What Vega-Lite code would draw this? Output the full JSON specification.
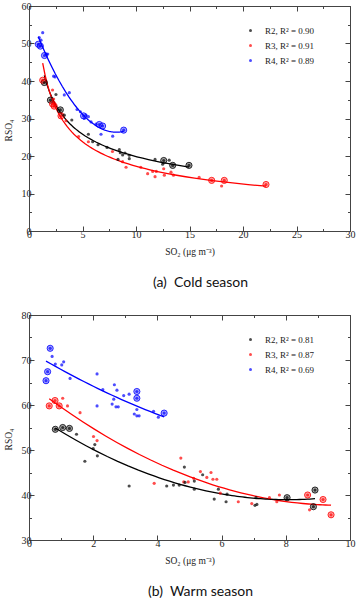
{
  "$schema": "https://vega.github.io/schema/vega-lite/v6.json",
  "padding": {"left": 2, "top": 0, "right": 0, "bottom": 0},
  "background": "white",
  "spacing": 19,
  "config": {
    "view": {"stroke": "#444", "strokeWidth": 1},
    "axis": {
      "grid": false, "labelFont": "Liberation Serif", "titleFont": "Liberation Serif",
      "labelFontSize": 10, "titleFontSize": 9.5, "titleFontWeight": "normal",
      "labelColor": "#222", "titleColor": "#222", "domainColor": "#444", "tickColor": "#444",
      "tickSize": -5, "labelPadding": 3, "titlePadding": 8, "labelFlush": false, "labelOverlap": false
    }
  },
  "resolve": {"scale": {"color": "independent", "fill": "independent", "stroke": "independent"}, "legend": {"color": "independent"}},
  "datasets": {
    "cold": [
      {"site": "R4", "so2": 0.96, "rso4": 51.6},
      {"site": "R4", "so2": 1.28, "rso4": 52.9},
      {"site": "R4", "so2": 1.12, "rso4": 50.9},
      {"site": "R4", "so2": 0.87, "rso4": 49.8, "ring": 1},
      {"site": "R4", "so2": 1.06, "rso4": 49.3, "ring": 1},
      {"site": "R4", "so2": 1.45, "rso4": 46.8, "ring": 1},
      {"site": "R4", "so2": 1.59, "rso4": 47.2},
      {"site": "R4", "so2": 1.75, "rso4": 47.2},
      {"site": "R4", "so2": 2.3, "rso4": 41.3},
      {"site": "R4", "so2": 2.43, "rso4": 41.1},
      {"site": "R4", "so2": 3.3, "rso4": 36.3},
      {"site": "R4", "so2": 3.77, "rso4": 36.9},
      {"site": "R4", "so2": 4.49, "rso4": 32.4},
      {"site": "R4", "so2": 4.8, "rso4": 31.8},
      {"site": "R4", "so2": 5.1, "rso4": 30.7, "ring": 1},
      {"site": "R4", "so2": 5.33, "rso4": 30.9},
      {"site": "R4", "so2": 5.55, "rso4": 30.5},
      {"site": "R4", "so2": 5.17, "rso4": 30.0},
      {"site": "R4", "so2": 5.8, "rso4": 29.1},
      {"site": "R4", "so2": 6.26, "rso4": 28.5},
      {"site": "R4", "so2": 6.57, "rso4": 28.4, "ring": 1},
      {"site": "R4", "so2": 6.88, "rso4": 28.0, "ring": 1},
      {"site": "R4", "so2": 6.73, "rso4": 25.8},
      {"site": "R4", "so2": 7.82, "rso4": 25.3},
      {"site": "R4", "so2": 8.85, "rso4": 26.9, "ring": 1},
      {"site": "R2", "so2": 1.43, "rso4": 39.6, "ring": 1},
      {"site": "R2", "so2": 2.0, "rso4": 34.9, "ring": 1},
      {"site": "R2", "so2": 2.52, "rso4": 36.4},
      {"site": "R2", "so2": 2.93, "rso4": 32.3, "ring": 1},
      {"site": "R2", "so2": 3.3, "rso4": 30.9},
      {"site": "R2", "so2": 4.0, "rso4": 29.6},
      {"site": "R2", "so2": 5.55, "rso4": 25.8},
      {"site": "R2", "so2": 5.95, "rso4": 23.8},
      {"site": "R2", "so2": 6.45, "rso4": 23.0},
      {"site": "R2", "so2": 7.29, "rso4": 22.3},
      {"site": "R2", "so2": 8.44, "rso4": 21.7},
      {"site": "R2", "so2": 8.53, "rso4": 20.9},
      {"site": "R2", "so2": 8.75, "rso4": 20.3},
      {"site": "R2", "so2": 8.97, "rso4": 20.8},
      {"site": "R2", "so2": 9.37, "rso4": 20.2},
      {"site": "R2", "so2": 9.37, "rso4": 19.3},
      {"site": "R2", "so2": 8.32, "rso4": 19.1},
      {"site": "R2", "so2": 11.78, "rso4": 19.1},
      {"site": "R2", "so2": 12.59, "rso4": 18.8, "ring": 1},
      {"site": "R2", "so2": 12.49, "rso4": 17.8},
      {"site": "R2", "so2": 13.1, "rso4": 18.9},
      {"site": "R2", "so2": 13.43, "rso4": 17.5, "ring": 1},
      {"site": "R2", "so2": 14.95, "rso4": 17.5, "ring": 1},
      {"site": "R3", "so2": 1.28, "rso4": 40.2, "ring": 1},
      {"site": "R3", "so2": 2.2, "rso4": 37.6},
      {"site": "R3", "so2": 2.2, "rso4": 33.9, "ring": 1},
      {"site": "R3", "so2": 2.35, "rso4": 33.3, "ring": 1},
      {"site": "R3", "so2": 2.3, "rso4": 35.2},
      {"site": "R3", "so2": 2.99, "rso4": 30.7, "ring": 1},
      {"site": "R3", "so2": 3.46, "rso4": 29.4},
      {"site": "R3", "so2": 4.64, "rso4": 25.2},
      {"site": "R3", "so2": 5.55, "rso4": 23.8},
      {"site": "R3", "so2": 7.8, "rso4": 21.2},
      {"site": "R3", "so2": 8.75, "rso4": 18.5},
      {"site": "R3", "so2": 9.07, "rso4": 17.0},
      {"site": "R3", "so2": 10.45, "rso4": 17.0},
      {"site": "R3", "so2": 11.09, "rso4": 15.3},
      {"site": "R3", "so2": 11.56, "rso4": 15.9},
      {"site": "R3", "so2": 11.9, "rso4": 15.9},
      {"site": "R3", "so2": 11.78, "rso4": 14.5},
      {"site": "R3", "so2": 12.59, "rso4": 16.6},
      {"site": "R3", "so2": 12.65, "rso4": 14.9},
      {"site": "R3", "so2": 13.27, "rso4": 15.7},
      {"site": "R3", "so2": 13.5, "rso4": 14.9},
      {"site": "R3", "so2": 15.9, "rso4": 14.3},
      {"site": "R3", "so2": 17.07, "rso4": 13.5, "ring": 1},
      {"site": "R3", "so2": 18.0, "rso4": 12.0},
      {"site": "R3", "so2": 18.25, "rso4": 13.5, "ring": 1},
      {"site": "R3", "so2": 22.15, "rso4": 12.4, "ring": 1}
    ],
    "warm": [
      {"site": "R4", "so2": 0.66, "rso4": 72.6, "ring": 1},
      {"site": "R4", "so2": 0.72, "rso4": 70.8},
      {"site": "R4", "so2": 0.58, "rso4": 67.4, "ring": 1},
      {"site": "R4", "so2": 0.53, "rso4": 65.4, "ring": 1},
      {"site": "R4", "so2": 0.82, "rso4": 69.1},
      {"site": "R4", "so2": 1.02, "rso4": 68.9},
      {"site": "R4", "so2": 1.08, "rso4": 69.6},
      {"site": "R4", "so2": 1.28, "rso4": 65.9},
      {"site": "R4", "so2": 2.12, "rso4": 66.9},
      {"site": "R4", "so2": 2.12, "rso4": 59.8},
      {"site": "R4", "so2": 2.3, "rso4": 63.4},
      {"site": "R4", "so2": 2.66, "rso4": 64.5},
      {"site": "R4", "so2": 2.74, "rso4": 63.3},
      {"site": "R4", "so2": 2.64, "rso4": 61.3},
      {"site": "R4", "so2": 2.59, "rso4": 60.2},
      {"site": "R4", "so2": 2.71, "rso4": 59.6},
      {"site": "R4", "so2": 2.78, "rso4": 59.6},
      {"site": "R4", "so2": 2.95, "rso4": 62.1},
      {"site": "R4", "so2": 3.12, "rso4": 62.4},
      {"site": "R4", "so2": 3.36, "rso4": 63.0, "ring": 1},
      {"site": "R4", "so2": 3.36, "rso4": 61.5, "ring": 1},
      {"site": "R4", "so2": 3.36, "rso4": 59.0},
      {"site": "R4", "so2": 3.28, "rso4": 58.0},
      {"site": "R4", "so2": 3.36, "rso4": 57.6},
      {"site": "R4", "so2": 3.43, "rso4": 57.6},
      {"site": "R4", "so2": 3.88, "rso4": 58.6},
      {"site": "R4", "so2": 4.03, "rso4": 57.3},
      {"site": "R4", "so2": 4.21, "rso4": 58.2, "ring": 1},
      {"site": "R3", "so2": 0.63, "rso4": 59.8, "ring": 1},
      {"site": "R3", "so2": 0.81, "rso4": 61.0, "ring": 1},
      {"site": "R3", "so2": 0.94, "rso4": 59.8, "ring": 1},
      {"site": "R3", "so2": 1.05, "rso4": 61.5},
      {"site": "R3", "so2": 1.2, "rso4": 59.8},
      {"site": "R3", "so2": 1.59, "rso4": 58.3},
      {"site": "R3", "so2": 2.01, "rso4": 53.0},
      {"site": "R3", "so2": 2.12, "rso4": 52.1},
      {"site": "R3", "so2": 3.9, "rso4": 42.6},
      {"site": "R3", "so2": 4.73, "rso4": 48.2},
      {"site": "R3", "so2": 4.82, "rso4": 42.9},
      {"site": "R3", "so2": 4.96, "rso4": 42.9},
      {"site": "R3", "so2": 5.13, "rso4": 43.7},
      {"site": "R3", "so2": 5.34, "rso4": 45.2},
      {"site": "R3", "so2": 5.54, "rso4": 43.9},
      {"site": "R3", "so2": 5.67, "rso4": 45.0},
      {"site": "R3", "so2": 5.73, "rso4": 43.5},
      {"site": "R3", "so2": 5.85, "rso4": 43.5},
      {"site": "R3", "so2": 5.96, "rso4": 40.4},
      {"site": "R3", "so2": 6.52, "rso4": 38.5},
      {"site": "R3", "so2": 6.94, "rso4": 38.1},
      {"site": "R3", "so2": 7.49, "rso4": 39.4},
      {"site": "R3", "so2": 7.72, "rso4": 38.5},
      {"site": "R3", "so2": 7.8, "rso4": 40.0},
      {"site": "R3", "so2": 8.68, "rso4": 40.0, "ring": 1},
      {"site": "R3", "so2": 8.74, "rso4": 36.7},
      {"site": "R3", "so2": 9.16, "rso4": 39.0, "ring": 1},
      {"site": "R3", "so2": 9.41, "rso4": 35.6, "ring": 1},
      {"site": "R2", "so2": 0.82, "rso4": 54.6, "ring": 1},
      {"site": "R2", "so2": 1.05, "rso4": 55.0, "ring": 1},
      {"site": "R2", "so2": 1.26, "rso4": 54.8, "ring": 1},
      {"site": "R2", "so2": 1.48, "rso4": 53.5},
      {"site": "R2", "so2": 2.05, "rso4": 51.2},
      {"site": "R2", "so2": 2.0, "rso4": 50.3},
      {"site": "R2", "so2": 2.13, "rso4": 48.7},
      {"site": "R2", "so2": 1.74, "rso4": 47.5},
      {"site": "R2", "so2": 3.12, "rso4": 42.0},
      {"site": "R2", "so2": 4.29, "rso4": 42.0},
      {"site": "R2", "so2": 4.5, "rso4": 42.2},
      {"site": "R2", "so2": 4.68, "rso4": 42.2},
      {"site": "R2", "so2": 4.84, "rso4": 46.2},
      {"site": "R2", "so2": 4.86, "rso4": 42.8},
      {"site": "R2", "so2": 5.15, "rso4": 43.1},
      {"site": "R2", "so2": 5.15, "rso4": 41.3},
      {"site": "R2", "so2": 5.41, "rso4": 44.5},
      {"site": "R2", "so2": 5.9, "rso4": 41.3},
      {"site": "R2", "so2": 5.77, "rso4": 39.1},
      {"site": "R2", "so2": 6.17, "rso4": 40.2},
      {"site": "R2", "so2": 6.14, "rso4": 38.5},
      {"site": "R2", "so2": 7.04, "rso4": 37.7},
      {"site": "R2", "so2": 7.1, "rso4": 37.9},
      {"site": "R2", "so2": 7.07, "rso4": 39.4},
      {"site": "R2", "so2": 8.04, "rso4": 39.4, "ring": 1},
      {"site": "R2", "so2": 8.91, "rso4": 41.1, "ring": 1},
      {"site": "R2", "so2": 8.86, "rso4": 37.4, "ring": 1}
    ]
  },
  "vconcat": [
    {
      "width": 321, "height": 225,
      "title": {"text": "(a)\u00a0 Cold season", "orient": "bottom", "frame": "group", "anchor": "middle", "dx": 11, "offset": 20, "font": "Lato", "fontSize": 14, "fontWeight": "normal", "color": "#111"},
      "data": {"name": "cold"},
      "resolve": {"axis": {"x": "independent", "y": "independent"}},
      "layer": [
        {
          "transform": [{"filter": "datum.site != 'R4'"}, {"regression": "rso4", "on": "so2", "groupby": ["site"], "method": "pow"}],
          "mark": {"type": "line", "strokeWidth": 1.3},
          "encoding": {
            "x": {"field": "so2", "type": "quantitative", "scale": {"domain": [0, 30], "nice": false}, "axis": null},
            "y": {"field": "rso4", "type": "quantitative", "scale": {"domain": [0, 60], "nice": false}, "axis": null},
            "stroke": {"field": "site", "type": "nominal", "scale": {"domain": ["R4", "R3", "R2"], "range": ["#0000ff", "#ff0000", "#000000"]}, "legend": null}
          }
        },
        {
          "transform": [{"filter": "datum.site == 'R4'"}, {"regression": "rso4", "on": "so2", "groupby": ["site"], "method": "quad"}],
          "mark": {"type": "line", "strokeWidth": 1.3},
          "encoding": {
            "x": {"field": "so2", "type": "quantitative", "scale": {"domain": [0, 30], "nice": false}, "axis": null},
            "y": {"field": "rso4", "type": "quantitative", "scale": {"domain": [0, 60], "nice": false}, "axis": null},
            "stroke": {"field": "site", "type": "nominal", "scale": {"domain": ["R4", "R3", "R2"], "range": ["#0000ff", "#ff0000", "#000000"]}, "legend": null}
          }
        },
        {
          "transform": [{"filter": "datum.ring == 1"}],
          "mark": {"type": "point", "shape": "circle", "filled": true, "size": 38, "fillOpacity": 0.35, "strokeWidth": 1, "strokeOpacity": 0.8},
          "encoding": {
            "x": {"field": "so2", "type": "quantitative", "scale": {"domain": [0, 30], "nice": false},
                  "axis": {"orient": "top", "values": [0, 2.5, 5, 7.5, 10, 12.5, 15, 17.5, 20, 22.5, 25, 27.5, 30], "labels": false, "title": null,
                           "tickDash": {"condition": {"test": "datum.value % 5 != 0", "value": [2.5, 20]}, "value": []}}},
            "y": {"field": "rso4", "type": "quantitative", "scale": {"domain": [0, 60], "nice": false},
                  "axis": {"orient": "right", "values": [0, 5, 10, 15, 20, 25, 30, 35, 40, 45, 50, 55, 60], "labels": false, "title": null,
                           "tickDash": {"condition": {"test": "datum.value % 10 != 0", "value": [2.5, 20]}, "value": []}}},
            "fill": {"field": "site", "type": "nominal", "scale": {"domain": ["R4", "R3", "R2"], "range": ["#0000ff", "#ff0000", "#000000"]}, "legend": null},
            "stroke": {"field": "site", "type": "nominal", "scale": {"domain": ["R4", "R3", "R2"], "range": ["#0000ff", "#ff0000", "#000000"]}, "legend": null}
          }
        },
        {
          "mark": {"type": "circle", "size": 10},
          "encoding": {
            "x": {"field": "so2", "type": "quantitative", "scale": {"domain": [0, 30], "nice": false},
                  "axis": {"orient": "bottom", "values": [0, 2.5, 5, 7.5, 10, 12.5, 15, 17.5, 20, 22.5, 25, 27.5, 30],
                           "labelExpr": "datum.value % 5 == 0 ? datum.label : ''", "title": "SO₂ (μg m⁻³)", "titlePadding": 7,
                           "tickDash": {"condition": {"test": "datum.value % 5 != 0", "value": [2.5, 20]}, "value": []}}},
            "y": {"field": "rso4", "type": "quantitative", "scale": {"domain": [0, 60], "nice": false},
                  "axis": {"orient": "left", "values": [0, 5, 10, 15, 20, 25, 30, 35, 40, 45, 50, 55, 60],
                           "labelExpr": "datum.value % 10 == 0 ? datum.label : ''", "title": "RSO₄", "titleY": 124,
                           "tickDash": {"condition": {"test": "datum.value % 10 != 0", "value": [2.5, 20]}, "value": []}}},
            "color": {"field": "site", "type": "nominal", "scale": {"domain": ["R2", "R3", "R4"], "range": ["#000000", "#ff0000", "#0000ff"]},
                      "legend": {"title": null, "orient": "none", "legendX": 217, "legendY": 20, "symbolType": "circle", "symbolSize": 9,
                                 "labelFont": "Liberation Serif", "labelFontSize": 9, "labelColor": "#222", "labelOffset": 10, "rowPadding": 5,
                                 "labelExpr": "datum.label == 'R2' ? 'R2, R² = 0.90' : datum.label == 'R3' ? 'R3, R² = 0.91' : 'R4, R² = 0.89'"}}
          }
        }
      ]
    },
    {
      "width": 321, "height": 225,
      "title": {"text": "(b)\u00a0 Warm season", "orient": "bottom", "frame": "group", "anchor": "middle", "dx": 11, "offset": 20, "font": "Lato", "fontSize": 14, "fontWeight": "normal", "color": "#111"},
      "data": {"name": "warm"},
      "resolve": {"axis": {"x": "independent", "y": "independent"}},
      "layer": [
        {
          "transform": [{"regression": "rso4", "on": "so2", "groupby": ["site"], "method": "quad"}],
          "mark": {"type": "line", "strokeWidth": 1.3},
          "encoding": {
            "x": {"field": "so2", "type": "quantitative", "scale": {"domain": [0, 10], "nice": false}, "axis": null},
            "y": {"field": "rso4", "type": "quantitative", "scale": {"domain": [30, 80], "nice": false, "zero": false}, "axis": null},
            "stroke": {"field": "site", "type": "nominal", "scale": {"domain": ["R4", "R3", "R2"], "range": ["#0000ff", "#ff0000", "#000000"]}, "legend": null}
          }
        },
        {
          "transform": [{"filter": "datum.ring == 1"}],
          "mark": {"type": "point", "shape": "circle", "filled": true, "size": 38, "fillOpacity": 0.35, "strokeWidth": 1, "strokeOpacity": 0.8},
          "encoding": {
            "x": {"field": "so2", "type": "quantitative", "scale": {"domain": [0, 10], "nice": false},
                  "axis": {"orient": "top", "values": [0, 1, 2, 3, 4, 5, 6, 7, 8, 9, 10], "labels": false, "title": null,
                           "tickDash": {"condition": {"test": "datum.value % 2 != 0", "value": [2.5, 20]}, "value": []}}},
            "y": {"field": "rso4", "type": "quantitative", "scale": {"domain": [30, 80], "nice": false, "zero": false},
                  "axis": {"orient": "right", "values": [30, 35, 40, 45, 50, 55, 60, 65, 70, 75, 80], "labels": false, "title": null,
                           "tickDash": {"condition": {"test": "datum.value % 10 != 0", "value": [2.5, 20]}, "value": []}}},
            "fill": {"field": "site", "type": "nominal", "scale": {"domain": ["R4", "R3", "R2"], "range": ["#0000ff", "#ff0000", "#000000"]}, "legend": null},
            "stroke": {"field": "site", "type": "nominal", "scale": {"domain": ["R4", "R3", "R2"], "range": ["#0000ff", "#ff0000", "#000000"]}, "legend": null}
          }
        },
        {
          "mark": {"type": "circle", "size": 10},
          "encoding": {
            "x": {"field": "so2", "type": "quantitative", "scale": {"domain": [0, 10], "nice": false},
                  "axis": {"orient": "bottom", "values": [0, 1, 2, 3, 4, 5, 6, 7, 8, 9, 10],
                           "labelExpr": "datum.value % 2 == 0 ? datum.label : ''", "title": "SO₂ (μg m⁻³)", "titlePadding": 7,
                           "tickDash": {"condition": {"test": "datum.value % 2 != 0", "value": [2.5, 20]}, "value": []}}},
            "y": {"field": "rso4", "type": "quantitative", "scale": {"domain": [30, 80], "nice": false, "zero": false},
                  "axis": {"orient": "left", "values": [30, 35, 40, 45, 50, 55, 60, 65, 70, 75, 80],
                           "labelExpr": "datum.value % 10 == 0 ? datum.label : ''", "title": "RSO₄", "titleY": 124,
                           "tickDash": {"condition": {"test": "datum.value % 10 != 0", "value": [2.5, 20]}, "value": []}}},
            "color": {"field": "site", "type": "nominal", "scale": {"domain": ["R2", "R3", "R4"], "range": ["#000000", "#ff0000", "#0000ff"]},
                      "legend": {"title": null, "orient": "none", "legendX": 217, "legendY": 20, "symbolType": "circle", "symbolSize": 9,
                                 "labelFont": "Liberation Serif", "labelFontSize": 9, "labelColor": "#222", "labelOffset": 10, "rowPadding": 5,
                                 "labelExpr": "datum.label == 'R2' ? 'R2, R² = 0.81' : datum.label == 'R3' ? 'R3, R² = 0.87' : 'R4, R² = 0.69'"}}
          }
        }
      ]
    }
  ]
}
